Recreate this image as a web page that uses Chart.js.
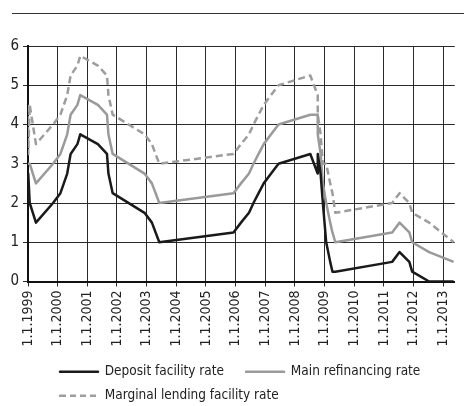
<!DOCTYPE html>
<html>
<head>
<meta charset="utf-8">
<script src="https://cdn.jsdelivr.net/npm/chart.js@4.4.1/dist/chart.umd.min.js"></script>
<style>
  html, body { margin: 0; padding: 0; background: #fff; }
  #wrap { position: relative; width: 464px; height: 406px; }
  #rule { position: absolute; left: 12px; top: 12.5px; width: 452px; border-top: 1.5px solid #333; }
  canvas { position: absolute; left: 0; top: 0; }
</style>
</head>
<body>
<div id="wrap">
  <div id="rule"></div>
  <canvas id="rateChart" width="464" height="406"></canvas>
</div>
<script>
// ECB key interest rates, change dates as decimal years
const changeDates = [1999.000, 1999.008, 1999.058, 1999.268, 1999.844, 2000.093, 2000.208, 2000.322, 2000.437, 2000.666,
        2000.762, 2001.356, 2001.663, 2001.712, 2001.855, 2002.929, 2003.178, 2003.427, 2005.929, 2006.181,
        2006.452, 2006.603, 2006.775, 2006.948, 2007.197, 2007.447, 2008.519, 2008.768, 2008.771, 2008.866,
        2008.942, 2009.055, 2009.190, 2009.266, 2009.362, 2011.279, 2011.529, 2011.858, 2011.953, 2012.527,
        2013.351];
const depositRate = [2.00, 2.75, 2.00, 1.50, 2.00, 2.25, 2.50, 2.75, 3.25, 3.50,
        3.75, 3.50, 3.25, 2.75, 2.25, 1.75, 1.50, 1.00, 1.25, 1.50,
        1.75, 2.00, 2.25, 2.50, 2.75, 3.00, 3.25, 2.75, 3.25, 2.75,
        2.00, 1.00, 0.50, 0.25, 0.25, 0.50, 0.75, 0.50, 0.25, 0.00,
        0.00];
const mainRefiRate = [3.00, 3.00, 3.00, 2.50, 3.00, 3.25, 3.50, 3.75, 4.25, 4.50,
        4.75, 4.50, 4.25, 3.75, 3.25, 2.75, 2.50, 2.00, 2.25, 2.50,
        2.75, 3.00, 3.25, 3.50, 3.75, 4.00, 4.25, 4.25, 3.75, 3.25,
        2.50, 2.00, 1.50, 1.25, 1.00, 1.25, 1.50, 1.25, 1.00, 0.75,
        0.50];
const marginalRate = [4.50, 3.25, 4.50, 3.50, 4.00, 4.25, 4.50, 4.75, 5.25, 5.50,
        5.75, 5.50, 5.25, 4.75, 4.25, 3.75, 3.50, 3.00, 3.25, 3.50,
        3.75, 4.00, 4.25, 4.50, 4.75, 5.00, 5.25, 4.75, 4.25, 3.75,
        3.00, 3.00, 2.50, 2.25, 1.75, 2.00, 2.25, 2.00, 1.75, 1.50,
        1.00];
const seriesNames = ['Deposit facility rate', 'Main refinancing rate', 'Marginal lending facility rate'];
const xStart = 1999;
const xEnd = 2013.39;

const FONT = '"DejaVu Sans Condensed", "Liberation Sans Narrow", "Roboto", sans-serif';

function toPoints(values) {
        return changeDates.map((d, i) => ({ x: d, y: values[i] }));
}

// move the legend block to where it sits in the original layout
const legendNudge = {
        id: 'legendNudge',
        afterLayout(chart) {
                const lg = chart.legend;
                const dx = 49.5 - lg.left;
                lg.left += dx;
                lg.right += dx;
                lg.top += 6.5;
                lg.bottom += 6.5;
        }
};

const ctx = document.getElementById('rateChart').getContext('2d');
const rateChart = new Chart(ctx, {
        type: 'line',
        data: {
                datasets: [{
                        label: seriesNames[0],
                        data: toPoints(depositRate),
                        borderColor: '#1a1a1a',
                        borderWidth: 2.5,
                }, {
                        label: seriesNames[1],
                        data: toPoints(mainRefiRate),
                        borderColor: '#9a9a9a',
                        borderWidth: 2.5,
                }, {
                        label: seriesNames[2],
                        data: toPoints(marginalRate),
                        borderColor: '#9d9d9d',
                        borderWidth: 2.5,
                        borderDash: [7, 4],
                }]
        },
        options: {
                responsive: false,
                animation: false,
                events: [],
                elements: {
                        point: { radius: 0 },
                        line: { tension: 0, borderJoinStyle: 'round', fill: false }
                },
                layout: { padding: { top: 46, right: 0, left: 0, bottom: 0 } },
                scales: {
                        x: {
                                type: 'linear',
                                min: xStart,
                                max: xEnd,
                                afterFit(scale) { scale.height = 66.5; },
                                grid: { display: true, drawOnChartArea: true, color: '#2a2a2a', lineWidth: 1, tickLength: 5 },
                                border: { color: '#111', width: 2 },
                                ticks: {
                                        stepSize: 1,
                                        includeBounds: false,
                                        autoSkip: false,
                                        minRotation: 90,
                                        maxRotation: 90,
                                        padding: 4,
                                        color: '#222',
                                        font: { family: FONT, size: 14 },
                                        callback: (v) => '1.1.' + v
                                }
                        },
                        y: {
                                type: 'linear',
                                min: 0,
                                max: 6,
                                afterFit(scale) { scale.width = 28; },
                                grid: { display: true, drawOnChartArea: true, color: '#2a2a2a', lineWidth: 1, tickLength: 5 },
                                border: { color: '#111', width: 2 },
                                ticks: {
                                        stepSize: 1,
                                        padding: 4,
                                        color: '#222',
                                        font: { family: FONT, size: 15 }
                                }
                        }
                },
                plugins: {
                        tooltip: { enabled: false },
                        legend: {
                                position: 'bottom',
                                align: 'start',
                                labels: {
                                        boxWidth: 38,
                                        boxHeight: 0,
                                        padding: 10.5,
                                        color: '#222',
                                        font: { family: FONT, size: 13.5 },
                                        generateLabels(chart) {
                                                const items = Chart.defaults.plugins.legend.labels.generateLabels(chart);
                                                items.forEach((item) => {
                                                        item.fillStyle = 'rgba(0,0,0,0)';
                                                        item.lineCap = 'butt';
                                                        if (item.lineDash && item.lineDash.length) {
                                                                item.lineDash = [6, 4];
                                                        }
                                                });
                                                // wider gap after the first entry, as in the original
                                                items[0].text = items[0].text + '   ';
                                                return items;
                                        }
                                }
                        }
                }
        },
        plugins: [legendNudge]
});
</script>
</body>
</html>
